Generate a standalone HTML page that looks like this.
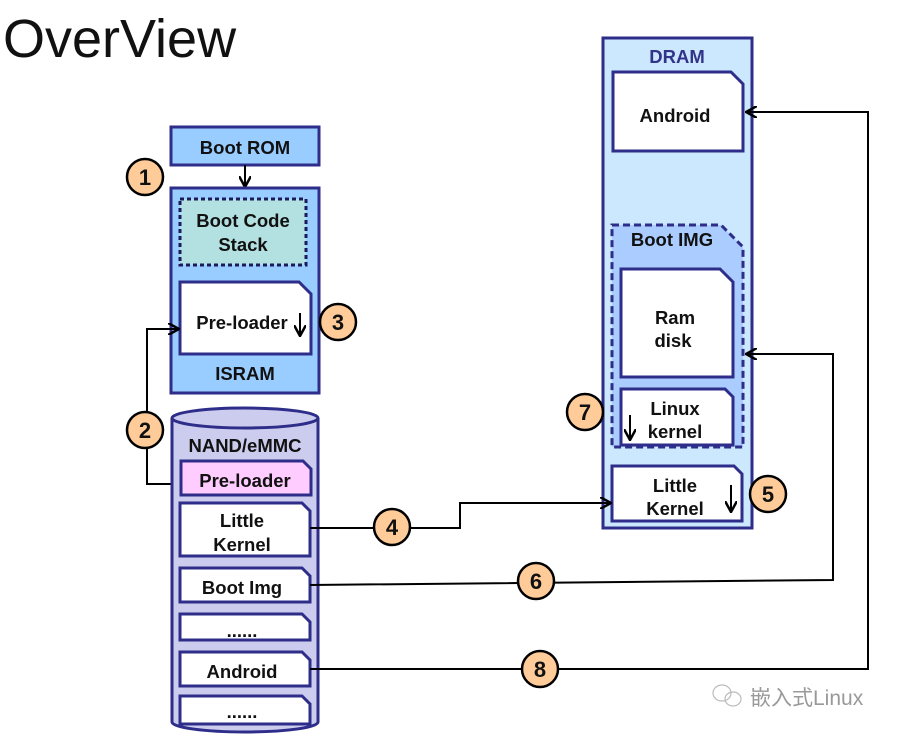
<!DOCTYPE html>
<html><head><meta charset="utf-8"><style>
html,body{margin:0;padding:0;background:#fff;}
svg{display:block;}
text{font-family:"Liberation Sans","Noto Sans CJK SC",sans-serif;font-weight:bold;font-size:18.5px;fill:#111;}
</style></head><body>
<svg width="900" height="737" viewBox="0 0 900 737" xmlns="http://www.w3.org/2000/svg">
<defs>
<marker id="ah" markerWidth="12" markerHeight="12" refX="10" refY="6" orient="auto" markerUnits="userSpaceOnUse">
<path d="M0,0 L11,6 L0,12" fill="none" stroke="#000" stroke-width="2.5"/>
</marker>
</defs>
<text x="3" y="57" style="font-weight:normal;font-size:54px">OverView</text>

<!-- Boot ROM -->
<rect x="171" y="127" width="148" height="38" fill="#99ccff" stroke="#2e2e8a" stroke-width="3"/>
<text x="245" y="154" text-anchor="middle">Boot ROM</text>
<line x1="245" y1="165" x2="245" y2="186" stroke="#000" stroke-width="2" marker-end="url(#ah)"/>

<!-- ISRAM -->
<rect x="171" y="188" width="148" height="205" fill="#99ccff" stroke="#2e2e8a" stroke-width="3"/>
<rect x="180" y="199" width="126" height="66" fill="#b3e0e0" stroke="#1a1a5e" stroke-width="3" stroke-dasharray="4,3"/>
<text x="243" y="227" text-anchor="middle">Boot Code</text>
<text x="243" y="251" text-anchor="middle">Stack</text>
<path d="M180,282 L299,282 L311,294 L311,354 L180,354 Z" fill="#fff" stroke="#2e2e8a" stroke-width="3"/>
<text x="242" y="329" text-anchor="middle">Pre-loader</text>
<line x1="300" y1="313" x2="300" y2="335" stroke="#000" stroke-width="2" marker-end="url(#ah)"/>
<text x="245" y="380" text-anchor="middle">ISRAM</text>

<!-- connector 2 -->
<polyline points="181,484 147,484 147,329 178,329" fill="none" stroke="#000" stroke-width="2" marker-end="url(#ah)"/>

<!-- NAND cylinder -->
<path d="M172,418 L172,722 A73,10 0 0 0 318,722 L318,418" fill="#ccccee" stroke="#2e2e8a" stroke-width="3"/>
<ellipse cx="245" cy="418" rx="73" ry="10" fill="#ccccee" stroke="#2e2e8a" stroke-width="3"/>
<text x="245" y="452" text-anchor="middle">NAND/eMMC</text>
<path d="M181,461 L303,461 L311,469 L311,495 L181,495 Z" fill="#ffccff" stroke="#2e2e8a" stroke-width="3"/>
<text x="245" y="487" text-anchor="middle">Pre-loader</text>
<path d="M180,503 L302,503 L310,511 L310,556 L180,556 Z" fill="#fff" stroke="#2e2e8a" stroke-width="3"/>
<text x="242" y="527" text-anchor="middle">Little</text>
<text x="242" y="551" text-anchor="middle">Kernel</text>
<path d="M180,568 L302,568 L310,576 L310,602 L180,602 Z" fill="#fff" stroke="#2e2e8a" stroke-width="3"/>
<text x="242" y="594" text-anchor="middle">Boot Img</text>
<path d="M180,614 L302,614 L310,622 L310,640 L180,640 Z" fill="#fff" stroke="#2e2e8a" stroke-width="3"/>
<text x="242" y="637" text-anchor="middle">......</text>
<path d="M180,652 L302,652 L310,660 L310,686 L180,686 Z" fill="#fff" stroke="#2e2e8a" stroke-width="3"/>
<text x="242" y="678" text-anchor="middle">Android</text>
<path d="M180,696 L302,696 L310,704 L310,724 L180,724 Z" fill="#fff" stroke="#2e2e8a" stroke-width="3"/>
<text x="242" y="718" text-anchor="middle">......</text>

<!-- DRAM -->
<rect x="603" y="38" width="149" height="490" fill="#cce8ff" stroke="#2e2e8a" stroke-width="3"/>
<text x="677" y="63" text-anchor="middle" style="fill:#333388">DRAM</text>
<path d="M613,72 L731,72 L743,84 L743,151 L613,151 Z" fill="#fff" stroke="#2e2e8a" stroke-width="3"/>
<text x="675" y="122" text-anchor="middle">Android</text>
<path d="M612,225 L721,225 L743,247 L743,447 L612,447 Z" fill="#aaccff" stroke="#2e2e8a" stroke-width="3" stroke-dasharray="7,4"/>
<text x="672" y="246" text-anchor="middle">Boot IMG</text>
<path d="M621,269 L720,269 L733,282 L733,377 L621,377 Z" fill="#fff" stroke="#2e2e8a" stroke-width="3"/>
<text x="675" y="324" text-anchor="middle">Ram</text>
<text x="673" y="347" text-anchor="middle">disk</text>
<path d="M621,389 L725,389 L733,397 L733,445 L621,445 Z" fill="#fff" stroke="#2e2e8a" stroke-width="3"/>
<text x="675" y="415" text-anchor="middle">Linux</text>
<text x="675" y="438" text-anchor="middle">kernel</text>
<line x1="630" y1="415" x2="630" y2="439" stroke="#000" stroke-width="2" marker-end="url(#ah)"/>
<path d="M612,466 L734,466 L742,474 L742,521 L612,521 Z" fill="#fff" stroke="#2e2e8a" stroke-width="3"/>
<text x="675" y="492" text-anchor="middle">Little</text>
<text x="675" y="515" text-anchor="middle">Kernel</text>
<line x1="731" y1="485" x2="731" y2="511" stroke="#000" stroke-width="2" marker-end="url(#ah)"/>

<!-- connectors -->
<polyline points="310,528 460,528 460,503 610,503" fill="none" stroke="#000" stroke-width="2" marker-end="url(#ah)"/>
<polyline points="310,585 833,580 833,354 747,354" fill="none" stroke="#000" stroke-width="2" marker-end="url(#ah)"/>
<polyline points="310,669 868,669 868,112 747,112" fill="none" stroke="#000" stroke-width="2" marker-end="url(#ah)"/>

<!-- circles -->
<g stroke="#000" stroke-width="2.5" fill="#ffcc99">
<circle cx="145" cy="177" r="18"/>
<circle cx="145" cy="430" r="18"/>
<circle cx="338" cy="322" r="18"/>
<circle cx="392" cy="527" r="18"/>
<circle cx="768" cy="494" r="18"/>
<circle cx="585" cy="412" r="18"/>
<circle cx="536" cy="581" r="18"/>
<circle cx="540" cy="669" r="18"/>
</g>
<text x="145" y="185" text-anchor="middle" style="font-size:22px">1</text>
<text x="145" y="438" text-anchor="middle" style="font-size:22px">2</text>
<text x="338" y="330" text-anchor="middle" style="font-size:22px">3</text>
<text x="392" y="535" text-anchor="middle" style="font-size:22px">4</text>
<text x="768" y="502" text-anchor="middle" style="font-size:22px">5</text>
<text x="585" y="420" text-anchor="middle" style="font-size:22px">7</text>
<text x="536" y="589" text-anchor="middle" style="font-size:22px">6</text>
<text x="540" y="677" text-anchor="middle" style="font-size:22px">8</text>

<!-- watermark -->
<g fill="none" stroke="#bbb" stroke-width="1.2">
<ellipse cx="722" cy="693" rx="9" ry="8"/>
<ellipse cx="733" cy="699" rx="8" ry="7"/>
</g>
<text x="750" y="705" style="font-weight:normal;font-size:21px;fill:#999">嵌入式Linux</text>
</svg>
</body></html>
